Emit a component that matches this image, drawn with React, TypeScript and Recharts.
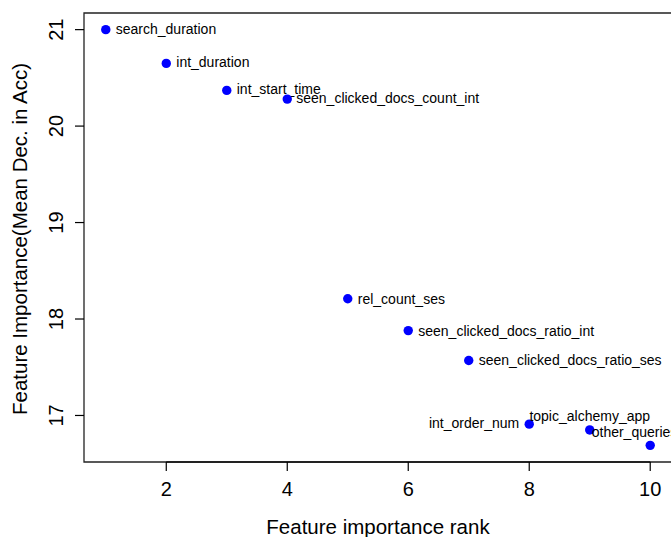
import React from "react";
import { ScatterChart, Scatter, XAxis, YAxis, ReferenceArea, ReferenceLine, Label } from "recharts";

const features = [
  "search_duration",
  "int_duration",
  "int_start_time",
  "seen_clicked_docs_count_int",
  "rel_count_ses",
  "seen_clicked_docs_ratio_int",
  "seen_clicked_docs_ratio_ses",
  "int_order_num",
  "topic_alchemy_app",
  "other_queries",
];
const ranks = [1, 2, 3, 4, 5, 6, 7, 8, 9, 10];
const importance = [21.0, 20.65, 20.37, 20.28, 18.21, 17.88, 17.57, 16.91, 16.85, 16.69];
const xTicks = [2, 4, 6, 8, 10];
const yTicks = [17, 18, 19, 20, 21];
const xTitle = "Feature importance rank";
const yTitle = "Feature Importance(Mean Dec. in Acc)";

const data = ranks.map((r, i) => ({ x: r, y: importance[i], name: features[i] }));

const X_DOMAIN: [number, number] = [0.64, 10.36];
const Y_DOMAIN: [number, number] = [16.5176, 21.1724];

const FONT = "'Liberation Sans', Arial, Helvetica, sans-serif";

// label placement styles, per point index
const labelStyle: { dx: number; dy: number; anchor: "start" | "middle" | "end" }[] = [
  { dx: 10, dy: -0.7, anchor: "start" },
  { dx: 10, dy: -1, anchor: "start" },
  { dx: 10, dy: -1.4, anchor: "start" },
  { dx: 9, dy: -0.7, anchor: "start" },
  { dx: 10, dy: 0, anchor: "start" },
  { dx: 10, dy: 0, anchor: "start" },
  { dx: 10, dy: 0, anchor: "start" },
  { dx: -10, dy: -1.4, anchor: "end" },
  { dx: 0, dy: -13.6, anchor: "middle" },
  { dx: -15.7, dy: -13.3, anchor: "middle" },
];

const PointShape = (props: any) => {
  const { cx, cy, index, payload } = props;
  const s = labelStyle[index] || { dx: 10, dy: 0, anchor: "start" };
  return (
    <g>
      <circle cx={cx} cy={cy} r={4.7} fill="#0000ff" />
      <text
        x={cx + s.dx}
        y={cy + s.dy}
        textAnchor={s.anchor}
        dominantBaseline="central"
        fontFamily={FONT}
        fontSize={14}
        fill="#000"
      >
        {payload.name}
      </text>
    </g>
  );
};

const XTick = (props: any) => {
  const { x, y, payload } = props;
  return (
    <text x={x} y={y + 23} textAnchor="middle" fontFamily={FONT} fontSize={20} fill="#000">
      {payload.value}
    </text>
  );
};

const YTick = (props: any) => {
  const { x, y, payload } = props;
  const bx = x - 10;
  return (
    <text
      x={bx}
      y={y}
      transform={`rotate(-90, ${bx}, ${y})`}
      textAnchor="middle"
      fontFamily={FONT}
      fontSize={20}
      fill="#000"
    >
      {payload.value}
    </text>
  );
};

const XTitle = (props: any) => {
  const { viewBox } = props;
  const cx = viewBox.x + viewBox.width / 2;
  const by = viewBox.y + 72;
  return (
    <text x={cx} y={by} textAnchor="middle" fontFamily={FONT} fontSize={20.5} fill="#000">
      {xTitle}
    </text>
  );
};

const YTitle = (props: any) => {
  const { viewBox } = props;
  const cy = viewBox.y + viewBox.height / 2 + 1.5;
  const bx = 27;
  return (
    <text
      x={bx}
      y={cy}
      transform={`rotate(-90, ${bx}, ${cy})`}
      textAnchor="middle"
      fontFamily={FONT}
      fontSize={20.5}
      fill="#000"
    >
      {yTitle}
    </text>
  );
};

export default function App() {
  return (
    <div style={{ position: "absolute", left: 0, top: 0, width: 671, height: 537, overflow: "hidden", background: "#fff" }}>
      <ScatterChart width={673} height={537} margin={{ top: 13, right: 1, bottom: 0, left: 0 }}>
        <XAxis
          type="number"
          dataKey="x"
          domain={X_DOMAIN}
          ticks={xTicks}
          allowDataOverflow
          axisLine={false}
          tickLine={{ stroke: "#000", strokeWidth: 1.2 }}
          tickSize={9}
          tick={<XTick />}
          height={75}
          interval={0}
        >
          <Label content={<XTitle />} />
        </XAxis>
        <YAxis
          type="number"
          dataKey="y"
          domain={Y_DOMAIN}
          ticks={yTicks}
          allowDataOverflow
          axisLine={false}
          tickLine={{ stroke: "#000", strokeWidth: 1.2 }}
          tickSize={9}
          tick={<YTick />}
          width={84}
          interval={0}
        >
          <Label content={<YTitle />} />
        </YAxis>
        <ReferenceArea
          x1={X_DOMAIN[0]}
          x2={X_DOMAIN[1]}
          y1={Y_DOMAIN[0]}
          y2={Y_DOMAIN[1]}
          fill="none"
          fillOpacity={0}
          stroke="#222"
          strokeWidth={1.3}
          ifOverflow="visible"
        />
        <ReferenceLine
          segment={[{ x: xTicks[0], y: Y_DOMAIN[0] }, { x: xTicks[xTicks.length - 1], y: Y_DOMAIN[0] }]}
          stroke="#222"
          strokeWidth={1.8}
          ifOverflow="visible"
        />
        <Scatter data={data} shape={<PointShape />} isAnimationActive={false} />
      </ScatterChart>
    </div>
  );
}
